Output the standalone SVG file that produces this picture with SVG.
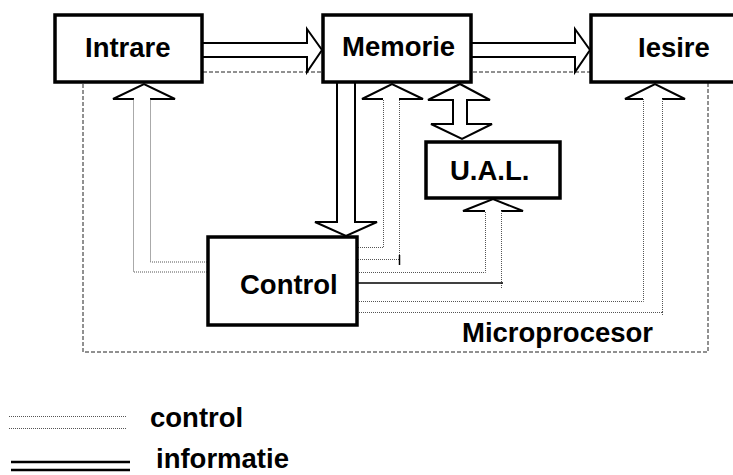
<svg xmlns="http://www.w3.org/2000/svg" width="733" height="475" viewBox="0 0 733 475">
  <style>
    .box { fill: #fff; stroke: #000; stroke-width: 3.5; }
    .lbl { font-family: "Liberation Sans", Arial, sans-serif; font-weight: bold; font-size: 27.5px; fill: #000; }
    .info { fill: none; stroke: #000; stroke-width: 2; stroke-linejoin: miter; }
    .ctl { fill: none; stroke: #555; stroke-width: 1; stroke-dasharray: 1 1; }
    .frame { fill: none; stroke: #222; stroke-width: 1; stroke-dasharray: 4 2; }
    .solid { fill: none; stroke: #000; stroke-width: 1.5; }
  </style>

  <rect width="733" height="475" fill="#fff"/>

  <!-- microprocessor boundary -->
  <rect id="microprocesor" class="frame" x="83" y="72" width="625" height="280"/>

  <g id="connectors">
    <!-- Intrare -> Memorie (information bus) -->
    <path class="info" d="M203,43 H307 V29 L322,50 L307,72 V57 H203"/>
    <!-- Memorie -> Iesire -->
    <path class="info" d="M472,43 H575 V29 L590,50 L575,72 V57 H472"/>
    <!-- Memorie -> Control -->
    <path class="info" d="M337,83 V222 H315 L346,236 L377,222 H355 V83"/>
    <!-- Memorie <-> U.A.L. -->
    <path class="info" d="M453,124 V100 H428 L460,84 L490,100 H467 V124 H492 L462,139 L431,124 Z"/>

    <!-- control arrowheads -->
    <path class="info" d="M134,99 H113 L144,84 L175,99 H150"/>
    <path class="info" d="M383,99 H362 L392,84 L423,99 H399"/>
    <path class="info" d="M485,211 H463 L493,199 L523,211 H501"/>
    <path class="info" d="M643,99 H625 L655,84 L685,99 H662"/>

    <!-- control lines: Control -> Intrare -->
    <path class="ctl" d="M207,262 H150.5 V99"/>
    <path class="ctl" d="M207,272 H133.5 V99"/>
    <!-- Control -> Memorie -->
    <path class="ctl" d="M350,247.5 H383.5 V99"/>
    <path class="ctl" d="M350,259.5 H399.5 V99"/>
    <line class="solid" x1="399.5" y1="255" x2="399.5" y2="265"/>
    <!-- Control -> U.A.L. -->
    <path class="ctl" d="M353,272.5 H485.5 V211"/>
    <path class="ctl" d="M501.5,211 V289"/>
    <line class="solid" x1="350" y1="283" x2="503" y2="283"/>
    <!-- Control -> Iesire -->
    <path class="ctl" d="M351,301.5 H643.5 V99"/>
    <path class="ctl" d="M351,312.5 H662.5 V99 M662.5,312 V316"/>
  </g>

  <g id="intrare">
    <rect class="box" x="55" y="15" width="147" height="67"/>
    <text class="lbl" x="85" y="57">Intrare</text>
  </g>
  <g id="memorie">
    <rect class="box" x="323" y="15" width="148" height="67"/>
    <text class="lbl" x="342" y="56">Memorie</text>
  </g>
  <g id="iesire">
    <rect class="box" x="591" y="15" width="170" height="67"/>
    <text class="lbl" x="638" y="57">Iesire</text>
  </g>
  <g id="ual">
    <rect class="box" x="426" y="142" width="134" height="56"/>
    <text class="lbl" x="450" y="180">U.A.L.</text>
  </g>
  <g id="control">
    <rect class="box" x="208" y="237" width="149" height="88"/>
    <text class="lbl" x="240" y="294">Control</text>
  </g>

  <text class="lbl" x="462" y="342">Microprocesor</text>

  <!-- legend -->
  <g id="legend">
    <line class="ctl" x1="9" y1="416.5" x2="126" y2="416.5"/>
    <line class="ctl" x1="9" y1="428.5" x2="126" y2="428.5"/>
    <text class="lbl" x="150" y="427">control</text>
    <line x1="11" y1="462" x2="130" y2="462" stroke="#000" stroke-width="2.5"/>
    <line x1="11" y1="470" x2="130" y2="470" stroke="#000" stroke-width="2.5"/>
    <text class="lbl" x="156" y="468">informatie</text>
  </g>
</svg>
